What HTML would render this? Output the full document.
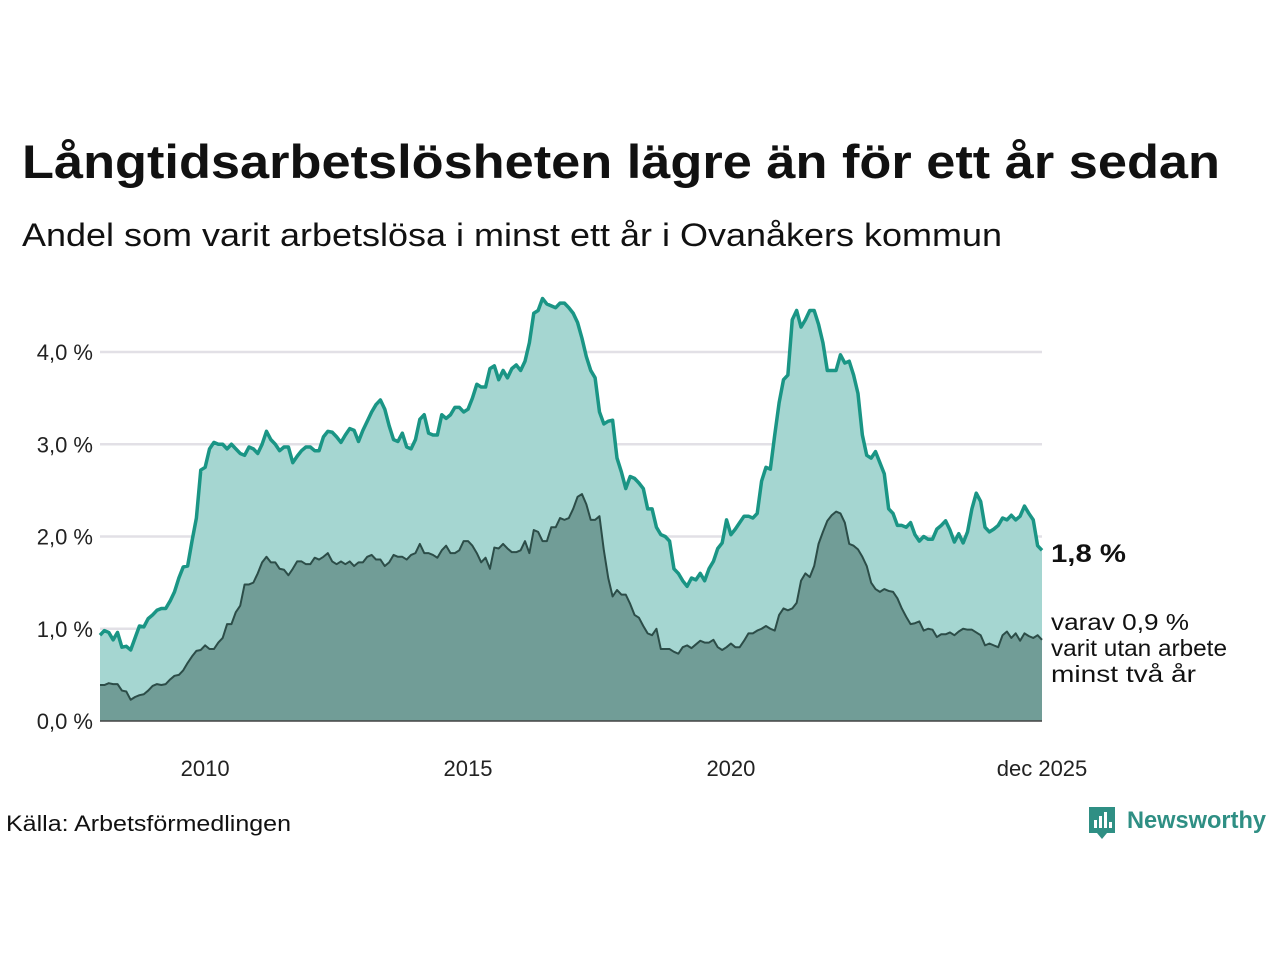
<!DOCTYPE html>
<html><head><meta charset="utf-8">
<style>
html,body{margin:0;padding:0;background:#fff;}
svg{display:block;font-family:"Liberation Sans","DejaVu Sans",sans-serif;}
</style></head>
<body>
<svg id="chart" width="1280" height="960" viewBox="0 0 1280 960" xmlns="http://www.w3.org/2000/svg">
<text x="22" y="178" font-size="47" font-weight="bold" fill="#111" textLength="1198" lengthAdjust="spacingAndGlyphs">Långtidsarbetslösheten lägre än för ett år sedan</text>
<text x="22" y="246" font-size="32" fill="#111" textLength="980" lengthAdjust="spacingAndGlyphs">Andel som varit arbetslösa i minst ett år i Ovanåkers kommun</text>
<g id="grid"></g>
<g id="areas"></g>
<g id="yticks"></g>
<g id="xticks"></g>
<text x="1051" y="562" font-size="25" font-weight="bold" fill="#111" textLength="75" lengthAdjust="spacingAndGlyphs">1,8 %</text>
<text font-size="23" fill="#111"><tspan x="1051" y="630" textLength="138" lengthAdjust="spacingAndGlyphs">varav 0,9 %</tspan><tspan x="1051" y="656" textLength="176" lengthAdjust="spacingAndGlyphs">varit utan arbete</tspan><tspan x="1051" y="682" textLength="145" lengthAdjust="spacingAndGlyphs">minst två år</tspan></text>
<text x="6" y="831" font-size="22" fill="#111" textLength="285" lengthAdjust="spacingAndGlyphs">Källa: Arbetsförmedlingen</text>
<g>
<path d="M1089 807 h26 v26 h-8 l-5 6 l-5 -6 h-8 z" fill="#2f8f84"/>
<rect x="1094" y="820" width="3" height="8" fill="#fff"/><rect x="1099" y="816" width="3" height="12" fill="#fff"/><rect x="1104" y="812" width="3" height="16" fill="#fff"/><rect x="1109" y="822" width="3" height="6" fill="#fff"/>
<text x="1127" y="828" font-size="24" font-weight="bold" fill="#2f8f84" textLength="139" lengthAdjust="spacingAndGlyphs">Newsworthy</text>
</g>
</svg>
<script>
const total = [
0.93,0.98,0.96,0.88,0.96,0.80,0.81,0.77,0.90,1.03,1.02,1.11,
1.15,1.20,1.22,1.22,1.30,1.40,1.55,1.67,1.68,1.95,2.20,2.72,
2.75,2.95,3.02,3.00,3.00,2.95,3.00,2.95,2.90,2.88,2.97,2.95,
2.90,3.00,3.14,3.05,3.00,2.93,2.97,2.97,2.80,2.87,2.93,2.97,
2.97,2.93,2.93,3.08,3.14,3.13,3.08,3.02,3.10,3.17,3.15,3.03,
3.15,3.25,3.35,3.43,3.48,3.38,3.20,3.05,3.03,3.12,2.97,2.95,
3.05,3.27,3.32,3.12,3.10,3.10,3.32,3.28,3.32,3.40,3.40,3.35,
3.38,3.50,3.65,3.62,3.62,3.82,3.85,3.70,3.80,3.72,3.82,3.86,
3.80,3.90,4.10,4.42,4.45,4.58,4.52,4.50,4.48,4.53,4.53,4.48,
4.42,4.32,4.15,3.95,3.80,3.72,3.35,3.22,3.25,3.26,2.85,2.70,
2.52,2.65,2.63,2.58,2.52,2.30,2.30,2.10,2.02,2.00,1.95,1.65,
1.60,1.52,1.46,1.55,1.53,1.60,1.52,1.65,1.73,1.87,1.93,2.18,
2.02,2.08,2.15,2.22,2.22,2.20,2.25,2.60,2.75,2.73,3.10,3.45,
3.70,3.75,4.35,4.45,4.27,4.35,4.45,4.45,4.30,4.10,3.80,3.80,
3.80,3.97,3.88,3.90,3.75,3.55,3.10,2.88,2.85,2.92,2.80,2.68,
2.30,2.25,2.12,2.12,2.10,2.15,2.02,1.95,2.00,1.97,1.97,2.08,
2.12,2.17,2.07,1.94,2.03,1.93,2.05,2.30,2.47,2.38,2.10,2.05,
2.08,2.12,2.20,2.18,2.23,2.18,2.22,2.33,2.25,2.18,1.90,1.85];
const longTerm = [
0.39,0.39,0.41,0.40,0.40,0.33,0.32,0.23,0.26,0.28,0.29,0.33,
0.38,0.40,0.39,0.40,0.45,0.49,0.50,0.55,0.63,0.70,0.76,0.77,
0.82,0.78,0.78,0.85,0.90,1.05,1.05,1.18,1.25,1.48,1.48,1.50,
1.60,1.72,1.78,1.72,1.72,1.65,1.64,1.58,1.65,1.73,1.73,1.70,
1.70,1.77,1.75,1.78,1.82,1.73,1.70,1.73,1.70,1.73,1.68,1.72,
1.72,1.78,1.80,1.75,1.75,1.68,1.72,1.80,1.78,1.78,1.75,1.80,
1.82,1.92,1.82,1.82,1.80,1.77,1.85,1.90,1.82,1.82,1.85,1.95,
1.95,1.90,1.82,1.72,1.77,1.65,1.88,1.87,1.92,1.87,1.83,1.83,
1.85,1.95,1.82,2.07,2.05,1.95,1.95,2.10,2.10,2.20,2.18,2.20,
2.30,2.43,2.46,2.35,2.18,2.18,2.22,1.85,1.55,1.35,1.42,1.37,
1.37,1.27,1.15,1.12,1.03,0.95,0.93,1.00,0.78,0.78,0.78,0.75,
0.73,0.80,0.82,0.79,0.83,0.87,0.85,0.85,0.88,0.80,0.77,0.80,
0.84,0.80,0.80,0.87,0.95,0.95,0.98,1.00,1.03,1.00,0.98,1.15,
1.22,1.20,1.22,1.28,1.52,1.60,1.56,1.68,1.92,2.05,2.17,2.23,
2.27,2.25,2.15,1.92,1.90,1.86,1.78,1.68,1.50,1.43,1.40,1.43,
1.41,1.40,1.33,1.22,1.13,1.05,1.06,1.08,0.98,1.00,0.99,0.91,
0.94,0.94,0.96,0.93,0.97,1.00,0.99,0.99,0.96,0.93,0.82,0.84,
0.82,0.80,0.93,0.97,0.90,0.95,0.87,0.95,0.92,0.90,0.93,0.88];
const startYear = 2008;
const yTickValues = [0,1,2,3,4];
const yTickLabels = ["0,0 %","1,0 %","2,0 %","3,0 %","4,0 %"];
const xTickYears = [2010,2015,2020,2025.917];
const xTickLabels = ["2010","2015","2020","dec 2025"];

const NS="http://www.w3.org/2000/svg";
const X0=100, X1=1042, Y0=721, PXPER=92.25;
const tEnd = startYear + (total.length-1)/12;
function xScale(t){return X0+(t-startYear)/(tEnd-startYear)*(X1-X0);}
function yScale(v){return Y0-v*PXPER;}
function mk(tag,attrs,parent){const e=document.createElementNS(NS,tag);for(const k in attrs)e.setAttribute(k,attrs[k]);parent.appendChild(e);return e;}

const grid=document.getElementById('grid'), yt=document.getElementById('yticks'), xt=document.getElementById('xticks'), areas=document.getElementById('areas');
yTickValues.forEach((v,i)=>{
  if(v>0){const l=mk('line',{x1:X0,x2:X1,y1:yScale(v),y2:yScale(v),stroke:'#e2e0e6','stroke-width':2.5},grid);
  
  }
  const t=mk('text',{x:93,y:yScale(v)+8,'text-anchor':'end','font-size':22,fill:'#222'},yt);
  t.textContent=yTickLabels[i];
  
  
});
xTickYears.forEach((yr,i)=>{
  const t=mk('text',{x:xScale(yr),y:776,'text-anchor':'middle','font-size':22,fill:'#222'},xt);
  t.textContent=xTickLabels[i];
  
  
});
function pts(arr){return arr.map((v,i)=>xScale(startYear+i/12).toFixed(2)+','+yScale(v).toFixed(2));}
function area(arr,fill,stroke,sw,name){
  const p=pts(arr);
  const a=mk('path',{d:'M'+X0+','+Y0+' L'+p.join(' L')+' L'+X1+','+Y0+' Z',fill:fill},areas);
  
  
  const l=mk('path',{d:'M'+p.join(' L'),fill:'none',stroke:stroke,'stroke-width':sw,'stroke-linejoin':'round'},areas);
  
  
}
area(total,'#a5d6d1','#1a9585',3.5,'total-series');
area(longTerm,'#719d97','#2c4d48',2,'long-term-series');
const base=mk('line',{x1:X0,x2:X1,y1:Y0,y2:Y0,stroke:'#444','stroke-width':1.5},areas);


</script>
</body></html>
